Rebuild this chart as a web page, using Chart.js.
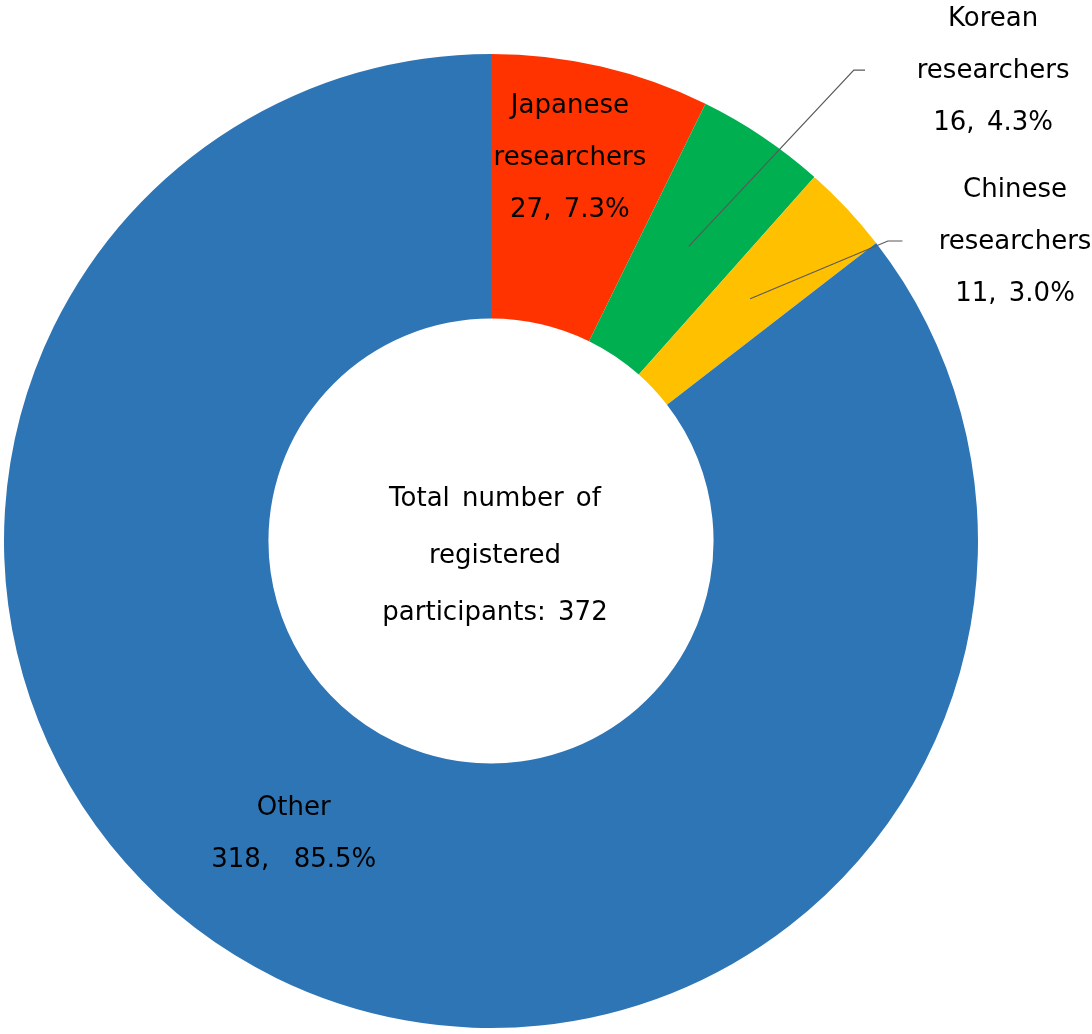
<!DOCTYPE html>
<html>
<head>
<meta charset="utf-8">
<script src="https://cdn.jsdelivr.net/npm/chart.js@4.4.0/dist/chart.umd.min.js"></script>
<style>
  html, body { margin: 0; padding: 0; background: #fff; }
  #wrap { width: 1092px; height: 1034px; position: relative; }
</style>
</head>
<body>
<div id="wrap"><canvas id="myChart"></canvas></div>
<script>
// data
const categories = ['Japanese researchers', 'Korean researchers', 'Chinese researchers', 'Other'];
const counts = [27, 16, 11, 318];
const colors = ['#FF3300', '#00B050', '#FFC000', '#2E75B6'];
const labelLines = [
  ['Japanese', 'researchers', '27, 7.3%'],
  ['Korean', 'researchers', '16, 4.3%'],
  ['Chinese', 'researchers', '11, 3.0%'],
  ['Other', '318,  85.5%']
];
const centerLines = ['Total number of', 'registered', 'participants: 372'];

// where each label sits, relative to the centre, in units of the outer radius
const labelPos = [
  { x: 0.162, y: -0.785 },
  { x: 1.031, y: -0.964 },
  { x: 1.076, y: -0.614 },
  { x: -0.405, y: 0.603 }
];
// leader lines (elbow and end) for the small outside labels
const leaders = {
  1: [{ x: 0.745, y: -0.967 }, { x: 0.768, y: -0.967 }],
  2: [{ x: 0.815, y: -0.616 }, { x: 0.845, y: -0.616 }]
};

const FONT = '26px "DejaVu Sans", Verdana, sans-serif';
const LINE_H = 52;

const labelPlugin = {
  id: 'donutLabels',
  afterDatasetsDraw(chart) {
    const c = chart.ctx;
    const meta = chart.getDatasetMeta(0);
    const arc0 = meta.data[0];
    const cx = arc0.x, cy = arc0.y, R = arc0.outerRadius;
    c.save();

    // leader lines
    c.strokeStyle = '#595959';
    c.lineWidth = 1.2;
    for (const k in leaders) {
      const a = meta.data[k];
      const mid = (a.startAngle + a.endAngle) / 2;
      const r = (a.innerRadius + a.outerRadius) / 2;
      c.beginPath();
      c.moveTo(cx + Math.cos(mid) * r, cy + Math.sin(mid) * r);
      leaders[k].forEach(p => c.lineTo(cx + p.x * R, cy + p.y * R));
      c.stroke();
    }

    c.fillStyle = '#000';
    c.font = FONT;
    c.wordSpacing = '4px';
    c.textAlign = 'center';
    c.textBaseline = 'middle';
    labelLines.forEach((lines, i) => {
      const px = cx + labelPos[i].x * R;
      const py = cy + labelPos[i].y * R;
      const top = py - (lines.length - 1) * LINE_H / 2;
      lines.forEach((t, j) => c.fillText(t, px, top + j * LINE_H));
    });

    // centre text
    const top = cy + 15 - LINE_H * 1.1;
    centerLines.forEach((t, j) => c.fillText(t, cx + 4, top + j * LINE_H * 1.1));
    c.restore();
  }
};

var ctx = document.getElementById('myChart').getContext('2d');
var myChart = new Chart(ctx, {
  type: 'doughnut',
  data: {
    labels: categories,
    datasets: [{
      data: counts,
      backgroundColor: colors,
      borderWidth: 0
    }]
  },
  options: {
    responsive: true,
    maintainAspectRatio: false,
    animation: false,
    cutout: '45.7%',
    layout: {
      padding: { left: 4, right: 114, top: 54, bottom: 6 }
    },
    plugins: {
      legend: { display: false },
      tooltip: { enabled: false }
    }
  },
  plugins: [labelPlugin]
});
</script>
</body>
</html>
